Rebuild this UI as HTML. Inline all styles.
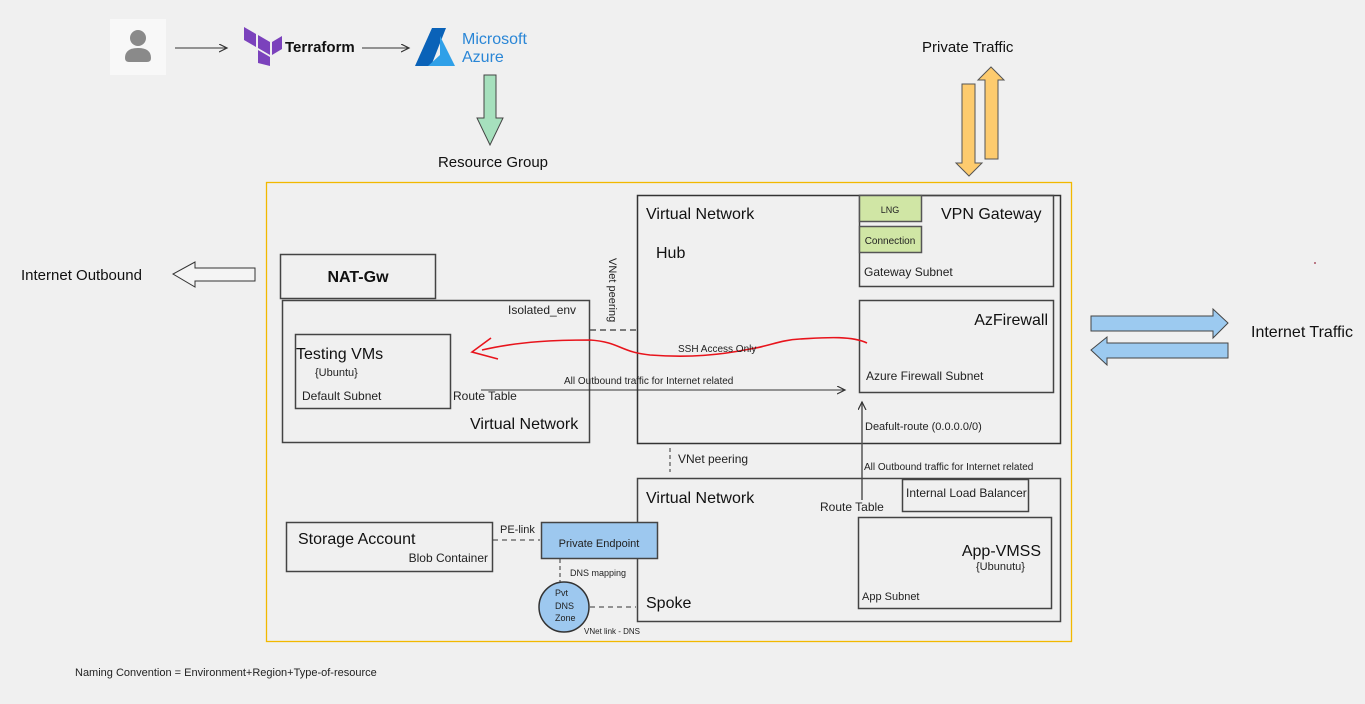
<!DOCTYPE html>
<html><head><meta charset="utf-8"><style>
html,body{margin:0;padding:0;background:#f0f0f0;}
svg{display:block;font-family:"Liberation Sans",sans-serif;}
</style></head><body>
<svg width="1365" height="704" viewBox="0 0 1365 704" xmlns="http://www.w3.org/2000/svg">
<defs>
<marker id="ah" markerWidth="10" markerHeight="10" refX="8" refY="4" orient="auto" markerUnits="userSpaceOnUse"><path d="M0,0 L8,4 L0,8" fill="none" stroke="#333" stroke-width="1.2"/></marker>
</defs>
<rect width="1365" height="704" fill="#f0f0f0"/>
<rect x="110" y="19" width="56" height="56" fill="#f8f8f8"/>
<circle cx="138" cy="38" r="8" fill="#8a8a8a"/>
<path d="M125,58 Q125,48 138,48 Q151,48 151,58 Q151,62 147,62 L129,62 Q125,62 125,58Z" fill="#8a8a8a"/>
<line x1="175" y1="48" x2="227" y2="48" stroke="#333" marker-end="url(#ah)"/>
<g fill="#7b42bc"><polygon points="244,27 256,34 256,47 244,40"/><polygon points="258,35 270,42 270,55 258,48"/><polygon points="258,50 270,57 270,66 258,63"/><polygon points="272,42 282,36 282,49 272,55"/></g>
<text x="285" y="52" font-size="15" font-weight="bold" fill="#111">Terraform</text>
<line x1="362" y1="48" x2="409" y2="48" stroke="#333" marker-end="url(#ah)"/>
<polygon points="432,28 446,28 431,66 415,66" fill="#0a62b8"/>
<polygon points="440,36 455,66 428,66 440,55" fill="#2fa0e8"/>
<text x="462" y="44" font-size="16" fill="#2a86d6">Microsoft</text>
<text x="462" y="62" font-size="16" fill="#2a86d6">Azure</text>
<polygon points="484,75 496,75 496,118 503,118 490,145 477,118 484,118" fill="#a6e0bd" stroke="#444"/>
<text x="493" y="167" font-size="15" fill="#111" text-anchor="middle">Resource Group</text>
<text x="922" y="52" font-size="15" fill="#111">Private Traffic</text>
<polygon points="962,84 975,84 975,163 982,163 969,176 956,163 962,163" fill="#fdcb6e" stroke="#555"/>
<polygon points="985,159 998,159 998,80 1004,80 991,67 978,80 985,80" fill="#fdcb6e" stroke="#555"/>
<text x="21" y="280" font-size="15" fill="#111">Internet Outbound</text>
<polygon points="255,268 255,281 195,281 195,287 173,274 195,262 195,268" fill="#f4f4f4" stroke="#333"/>
<polygon points="1091,316 1213,316 1213,309 1228,323 1213,338 1213,331 1091,331" fill="#9ccaf0" stroke="#444"/>
<polygon points="1228,343 1107,343 1107,337 1091,350 1107,365 1107,358 1228,358" fill="#9ccaf0" stroke="#444"/>
<text x="1251" y="337" font-size="16" fill="#111">Internet Traffic</text>
<circle cx="1315" cy="263" r="1" fill="#a56"/>
<rect x="266.5" y="182.5" width="805" height="459" fill="none" stroke="#f2b800" stroke-width="1.3"/>
<rect x="280.5" y="254.5" width="155" height="44" fill="none" stroke="#444" stroke-width="1.5"/>
<text x="358" y="282" font-size="16" font-weight="bold" text-anchor="middle" fill="#111">NAT-Gw</text>
<rect x="282.5" y="300.5" width="307" height="142" fill="none" stroke="#444" stroke-width="1.5"/>
<text x="508" y="314" font-size="12" fill="#222">Isolated_env</text>
<rect x="295.5" y="334.5" width="155" height="74" fill="none" stroke="#444" stroke-width="1.5"/>
<text x="296" y="359" font-size="16" fill="#111">Testing VMs</text>
<text x="315" y="376" font-size="11" fill="#222">{Ubuntu}</text>
<text x="302" y="400" font-size="12" fill="#222">Default Subnet</text>
<text x="453" y="400" font-size="12" fill="#222">Route Table</text>
<text x="470" y="429" font-size="16" fill="#111">Virtual Network</text>
<line x1="590" y1="330" x2="636" y2="330" stroke="#555" stroke-width="1.5" stroke-dasharray="6,4"/>
<text transform="translate(609,258) rotate(90)" font-size="11" fill="#222">VNet peering</text>
<rect x="637.5" y="195.5" width="423" height="248" fill="none" stroke="#333" stroke-width="1.5"/>
<text x="646" y="219" font-size="16" fill="#111">Virtual Network</text>
<text x="656" y="258" font-size="16" fill="#111">Hub</text>
<rect x="859.5" y="195.5" width="194" height="91" fill="none" stroke="#444" stroke-width="1.5"/>
<rect x="859.5" y="195.5" width="62" height="26" fill="#d0e6a5" stroke="#555" stroke-width="1.5"/>
<text x="890" y="213" font-size="9" text-anchor="middle" fill="#222">LNG</text>
<rect x="859.5" y="226.5" width="62" height="26" fill="#d0e6a5" stroke="#555" stroke-width="1.5"/>
<text x="890" y="244" font-size="10" text-anchor="middle" fill="#222">Connection</text>
<text x="941" y="219" font-size="16" fill="#111">VPN Gateway</text>
<text x="864" y="276" font-size="12" fill="#222">Gateway Subnet</text>
<rect x="859.5" y="300.5" width="194" height="92" fill="none" stroke="#444" stroke-width="1.5"/>
<text x="1048" y="325" font-size="16" text-anchor="end" fill="#111">AzFirewall</text>
<text x="866" y="380" font-size="12" fill="#222">Azure Firewall Subnet</text>
<line x1="481" y1="390" x2="845" y2="390" stroke="#333" marker-end="url(#ah)"/>
<text x="564" y="384" font-size="10" fill="#222">All Outbound traffic for Internet related</text>
<path d="M867,343 C850,335 820,338 800,339 C780,340 770,346 750,349 C720,355 690,358 650,355 C620,352 620,342 590,340 C560,340 520,341 482,350" fill="none" stroke="#e8141c" stroke-width="1.6"/>
<path d="M491,338 L472,352 L498,359" fill="none" stroke="#e8141c" stroke-width="1.6"/>
<text x="678" y="352" font-size="10" fill="#222">SSH Access Only</text>
<line x1="862" y1="500" x2="862" y2="402" stroke="#555" stroke-width="1.5" marker-end="url(#ah)"/>
<text x="865" y="430" font-size="11" fill="#222">Deafult-route (0.0.0.0/0)</text>
<text x="864" y="470" font-size="10" fill="#222">All Outbound traffic for Internet related</text>
<line x1="670" y1="448" x2="670" y2="472" stroke="#333" stroke-dasharray="4,3"/>
<text x="678" y="463" font-size="12" fill="#222">VNet peering</text>
<rect x="637.5" y="478.5" width="423" height="143" fill="none" stroke="#444" stroke-width="1.5"/>
<text x="646" y="503" font-size="16" fill="#111">Virtual Network</text>
<text x="646" y="608" font-size="16" fill="#111">Spoke</text>
<text x="820" y="511" font-size="12" fill="#222">Route Table</text>
<rect x="902.5" y="479.5" width="126" height="32" fill="none" stroke="#444" stroke-width="1.5"/>
<text x="906" y="497" font-size="12" fill="#222">Internal Load Balancer</text>
<rect x="858.5" y="517.5" width="193" height="91" fill="none" stroke="#444" stroke-width="1.5"/>
<text x="1041" y="556" font-size="16" text-anchor="end" fill="#111">App-VMSS</text>
<text x="976" y="570" font-size="11" fill="#222">{Ubunutu}</text>
<text x="862" y="600" font-size="11" fill="#222">App Subnet</text>
<rect x="286.5" y="522.5" width="206" height="49" fill="none" stroke="#444" stroke-width="1.5"/>
<text x="298" y="544" font-size="16" fill="#111">Storage Account</text>
<text x="488" y="562" font-size="12" text-anchor="end" fill="#222">Blob Container</text>
<line x1="493" y1="540" x2="540" y2="540" stroke="#333" stroke-dasharray="5,4"/>
<text x="500" y="533" font-size="11" fill="#222">PE-link</text>
<rect x="541.5" y="522.5" width="116" height="36" fill="#9dc8ef" stroke="#444" stroke-width="1.5"/>
<text x="599" y="547" font-size="11" text-anchor="middle" fill="#222">Private Endpoint</text>
<line x1="560" y1="559" x2="560" y2="583" stroke="#333" stroke-dasharray="4,3"/>
<text x="570" y="576" font-size="9" fill="#222">DNS mapping</text>
<circle cx="564" cy="607" r="25" fill="#9dc8ef" stroke="#333" stroke-width="1.5"/>
<text x="555" y="596" font-size="9" fill="#222">Pvt</text>
<text x="555" y="609" font-size="9" fill="#222">DNS</text>
<text x="555" y="621" font-size="9" fill="#222">Zone</text>
<line x1="590" y1="607" x2="636" y2="607" stroke="#333" stroke-dasharray="5,4"/>
<text x="584" y="634" font-size="8" fill="#222">VNet link - DNS</text>
<text x="75" y="676" font-size="11" fill="#222">Naming Convention = Environment+Region+Type-of-resource</text>
</svg>
</body></html>
